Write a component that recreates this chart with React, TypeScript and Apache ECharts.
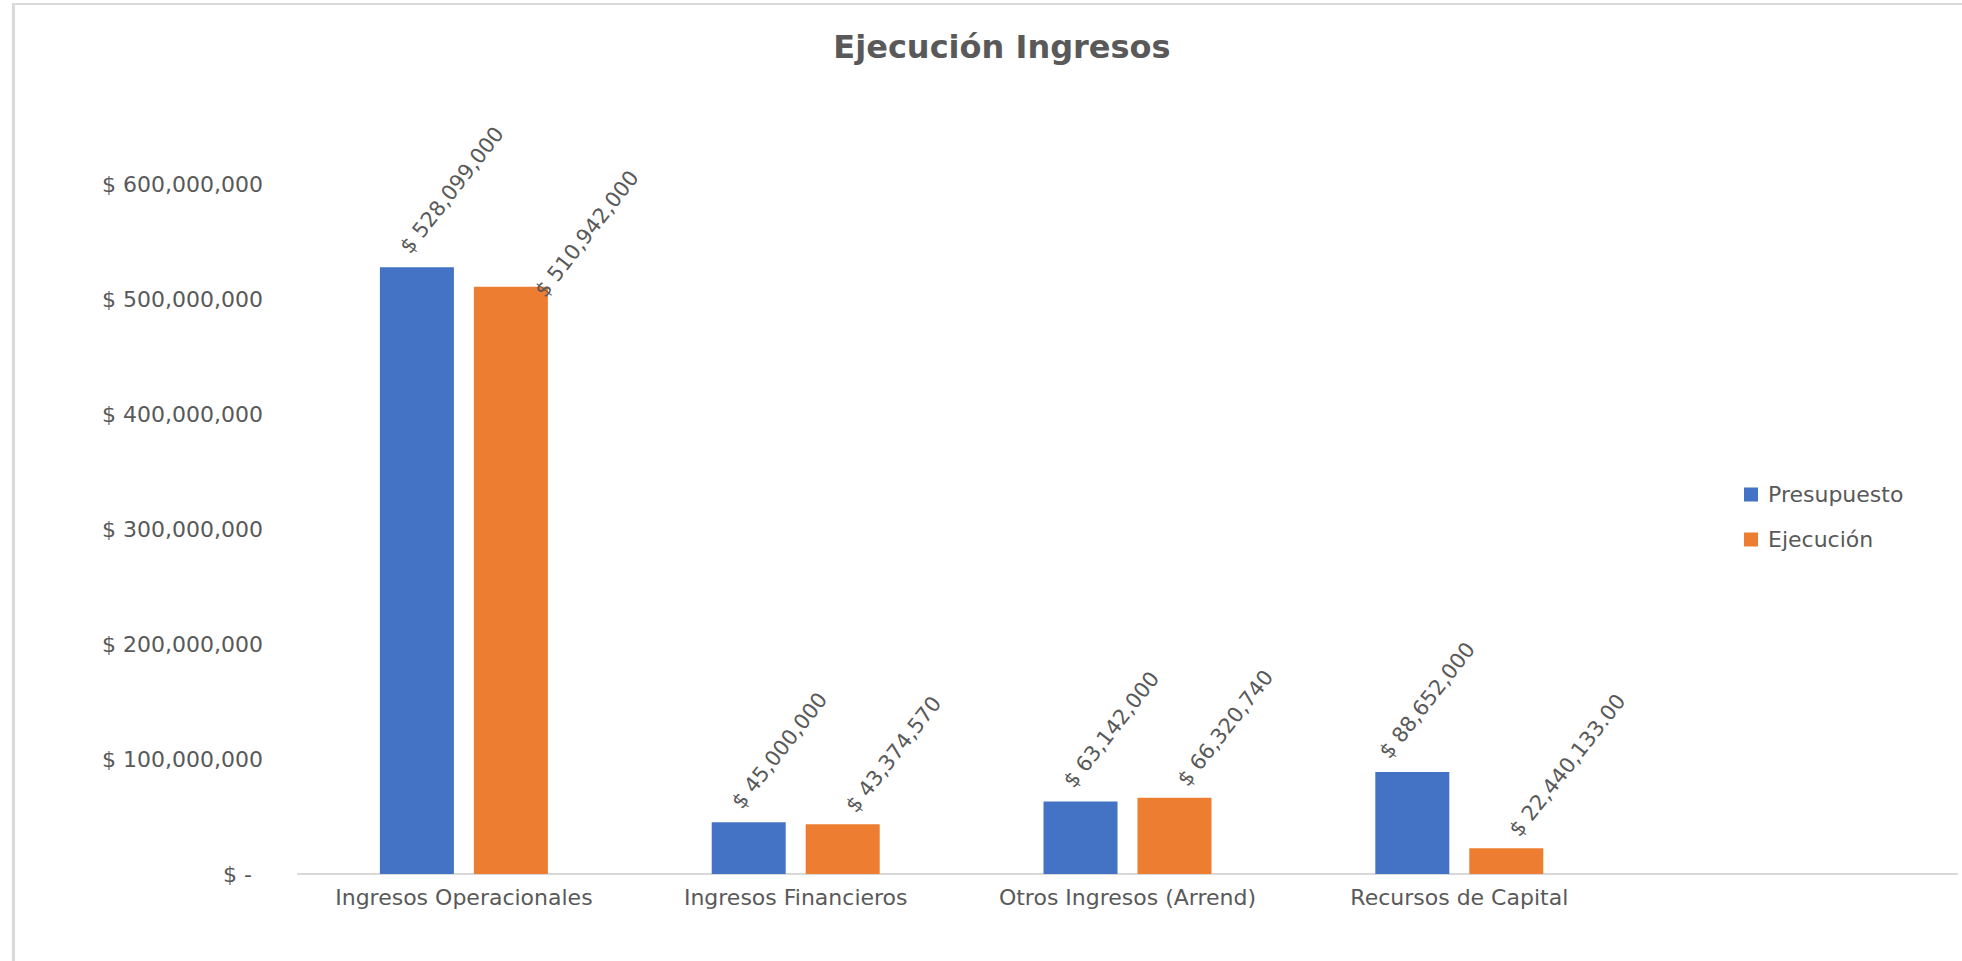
import React, { useEffect, useRef } from "react";
import * as echarts from "echarts";

const titleText = "Ejecución Ingresos";
const categories = [
  "Ingresos Operacionales",
  "Ingresos Financieros",
  "Otros Ingresos (Arrend)",
  "Recursos de Capital",
  "",
];
const seriesNames = ["Presupuesto", "Ejecución"];
const presupuesto = [528099000, 45000000, 63142000, 88652000, null];
const ejecucion = [510942000, 43374570, 66320740, 22440133, null];
const ejecucionDecimals = [0, 0, 0, 2, 0];
const yMin = 0;
const yMax = 600000000;
const yStep = 100000000;

const FONT = "'DejaVu Sans', 'Open Sans', sans-serif";
const GRAY = "#595959";
const BLUE = "#4472C4";
const ORANGE = "#ED7D31";
const LINE = "#D9D9D9";
const ROT = 52;

const money = (v: number, d = 0) =>
  "$ " +
  v.toLocaleString("en-US", {
    minimumFractionDigits: d,
    maximumFractionDigits: d,
  });

// convert a screen-space shift into the rotated label's local frame
const localOffset = (dx: number, dy: number) => {
  const a = (ROT * Math.PI) / 180;
  return [
    dx * Math.cos(a) - dy * Math.sin(a),
    dx * Math.sin(a) + dy * Math.cos(a),
  ];
};

const baseLabel = {
  show: true,
  position: "top",
  distance: 14,
  rotate: ROT,
  align: "left",
  verticalAlign: "bottom",
  color: GRAY,
  fontFamily: FONT,
  fontSize: 21,
};

export default function App() {
  const ref = useRef<HTMLDivElement>(null);

  useEffect(() => {
    if (!ref.current) return;
    const chart = echarts.init(ref.current, null, { renderer: "svg" });

    const presData = presupuesto.map((v, i) =>
      i === 3
        ? { value: v, label: { offset: localOffset(-20, 4) } }
        : { value: v }
    );
    const ejecData = ejecucion.map((v, i) =>
      i === 0
        ? { value: v, label: { offset: localOffset(37, 28) } }
        : { value: v }
    );

    chart.setOption({
      animation: false,
      backgroundColor: "#ffffff",
      title: {
        text: titleText,
        left: 997,
        textAlign: "center",
        top: 26,
        textStyle: {
          fontFamily: FONT,
          fontSize: 32,
          fontWeight: "bold",
          color: GRAY,
        },
      },
      legend: {
        orient: "vertical",
        left: 1739,
        top: 478,
        itemWidth: 14,
        itemHeight: 14,
        itemGap: 22,
        icon: "rect",
        data: seriesNames,
        textStyle: {
          fontFamily: FONT,
          fontSize: 22,
          lineHeight: 23,
          color: GRAY,
          padding: [0, 0, 0, 5],
        },
      },
      grid: {
        left: 298,
        right: 5,
        top: 184.5,
        bottom: 87,
        containLabel: false,
        outerBoundsMode: "none",
      },
      xAxis: {
        type: "category",
        data: categories,
        axisTick: { show: false },
        axisLine: { show: true, lineStyle: { color: LINE, width: 2 } },
        axisLabel: {
          interval: 0,
          margin: 12,
          color: GRAY,
          fontFamily: FONT,
          fontSize: 22,
        },
        splitLine: { show: false },
      },
      yAxis: {
        type: "value",
        min: yMin,
        max: yMax,
        interval: yStep,
        axisLine: { show: false },
        axisTick: { show: false },
        splitLine: { show: false },
        axisLabel: {
          margin: 35,
          color: GRAY,
          fontFamily: FONT,
          fontSize: 22,
          formatter: (v: number) => (v === 0 ? "{z|$ -}" : money(v)),
          rich: {
            z: {
              color: GRAY,
              fontFamily: FONT,
              fontSize: 22,
              padding: [0, 11, 0, 0],
            },
          },
        },
      },
      series: [
        {
          name: seriesNames[0],
          type: "bar",
          data: presData,
          barWidth: 74,
          barGap: "27%",
          itemStyle: { color: BLUE },
          label: {
            ...baseLabel,
            offset: localOffset(-4, 4),
            formatter: (p: any) => money(p.value),
          },
        },
        {
          name: seriesNames[1],
          type: "bar",
          data: ejecData,
          barWidth: 74,
          barGap: "27%",
          itemStyle: { color: ORANGE },
          label: {
            ...baseLabel,
            offset: localOffset(16, 6),
            formatter: (p: any) => money(p.value, ejecucionDecimals[p.dataIndex]),
          },
        },
      ],
      graphic: [
        {
          type: "rect",
          silent: true,
          shape: { x: 12, y: 3, width: 1950, height: 2 },
          style: { fill: LINE },
        },
        {
          type: "rect",
          silent: true,
          shape: { x: 12, y: 3, width: 3, height: 958 },
          style: { fill: LINE },
        },
      ],
    });

    return () => chart.dispose();
  }, []);

  return (
    <div
      ref={ref}
      style={{
        position: "fixed",
        left: 0,
        top: 0,
        width: 1962,
        height: 961,
        background: "#fff",
      }}
    />
  );
}
